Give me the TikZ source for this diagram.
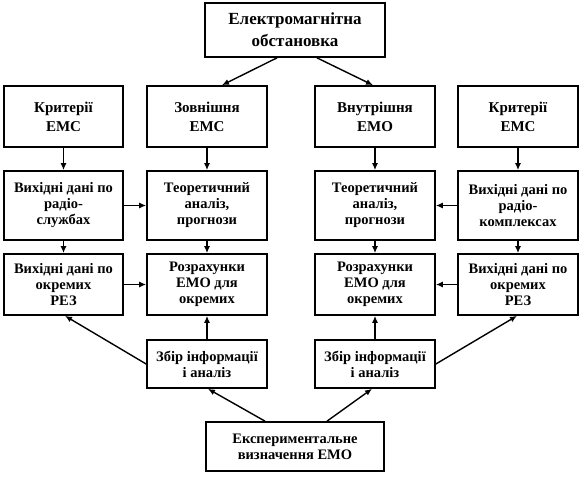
\documentclass[tikz,border=0pt]{standalone}
\usepackage{fontspec}
\setmainfont{Liberation Serif}
\usetikzlibrary{arrows.meta}
\begin{document}
\begin{tikzpicture}[x=1pt,y=-1pt,
  box/.style={draw=black, line width=1.7pt, rectangle, align=center, inner sep=1pt,
    font=\bfseries\fontsize{14.5}{16}\selectfont},
  bigbox/.style={box, font=\bfseries\fontsize{17}{22}\selectfont},
  midbox/.style={box, font=\bfseries\fontsize{15}{19}\selectfont},
  conn/.style={draw=black, line width=1.4pt, -{Latex[length=7pt,width=6pt]}}]
\useasboundingbox (0,0) rectangle (582,480);
\node[bigbox, minimum width=180pt, minimum height=54pt] (top) at (295,30) {Електромагнітна\\обстановка};
\node[midbox, minimum width=119pt, minimum height=61pt] (r1a) at (63.5,116.5) {Критерії\\ЕМС};
\node[midbox, minimum width=120pt, minimum height=61pt] (r1b) at (207,116.5) {Зовнішня\\ЕМС};
\node[midbox, minimum width=120pt, minimum height=61pt] (r1c) at (375,116.5) {Внутрішня\\ЕМО};
\node[midbox, minimum width=120pt, minimum height=61pt] (r1d) at (518,116.5) {Критерії\\ЕМС};
\node[box, minimum width=119pt, minimum height=69pt] (r2a) at (63.5,205.5) {Вихідні дані по\\радіо-\\службах};
\node[box, minimum width=120pt, minimum height=69pt] (r2b) at (207,205.5) {Теоретичний\\аналіз,\\прогнози};
\node[box, minimum width=120pt, minimum height=69pt] (r2c) at (375,205.5) {Теоретичний\\аналіз,\\прогнози};
\node[box, minimum width=120pt, minimum height=69pt] (r2d) at (518,205.5) {Вихідні дані по\\радіо-\\комплексах};
\node[box, minimum width=119pt, minimum height=61pt] (r3a) at (63.5,284.5) {Вихідні дані по\\окремих\\РЕЗ};
\node[box, minimum width=120pt, minimum height=61pt] (r3b) at (207,284.5) {Розрахунки\\ЕМО для\\окремих};
\node[box, minimum width=120pt, minimum height=61pt] (r3c) at (375,284.5) {Розрахунки\\ЕМО для\\окремих};
\node[box, minimum width=120pt, minimum height=61pt] (r3d) at (518,284.5) {Вихідні дані по\\окремих\\РЕЗ};
\node[box, minimum width=120pt, minimum height=48pt] (c1) at (207,364) {Збір інформації\\і аналіз};
\node[box, minimum width=120pt, minimum height=48pt] (c2) at (375,364) {Збір інформації\\і аналіз};
\node[box, minimum width=178pt, minimum height=49pt] (bot) at (295,446.5) {Експериментальне\\визначення ЕМО};
% top arrows
\draw[conn] ([xshift=-18pt]top.south) -- ([xshift=15pt]r1b.north);
\draw[conn] ([xshift=22pt]top.south) -- ([xshift=-2pt]r1c.north);
% verticals
\foreach \c in {a,b,c,d} {
  \draw[conn] (r1\c.south) -- (r2\c.north);
  \draw[conn] (r2\c.south) -- (r3\c.north);
}
% horizontals
\draw[conn] (r2a.east) -- (r2b.west);
\draw[conn] (r2d.west) -- (r2c.east);
\draw[conn] (r3a.east) -- (r3b.west);
\draw[conn] (r3d.west) -- (r3c.east);
% collect boxes
\draw[conn] (c1.north) -- (r3b.south);
\draw[conn] (c2.north) -- (r3c.south);
\draw[conn] (c1.west) -- ([xshift=1.5pt]r3a.south);
\draw[conn] (c2.east) -- ([xshift=-1pt]r3d.south);
% bottom
\draw[conn] ([xshift=-30pt]bot.north) -- ([xshift=1pt]c1.south);
\draw[conn] ([xshift=32pt]bot.north) -- ([xshift=-3pt]c2.south);
\end{tikzpicture}
\end{document}
